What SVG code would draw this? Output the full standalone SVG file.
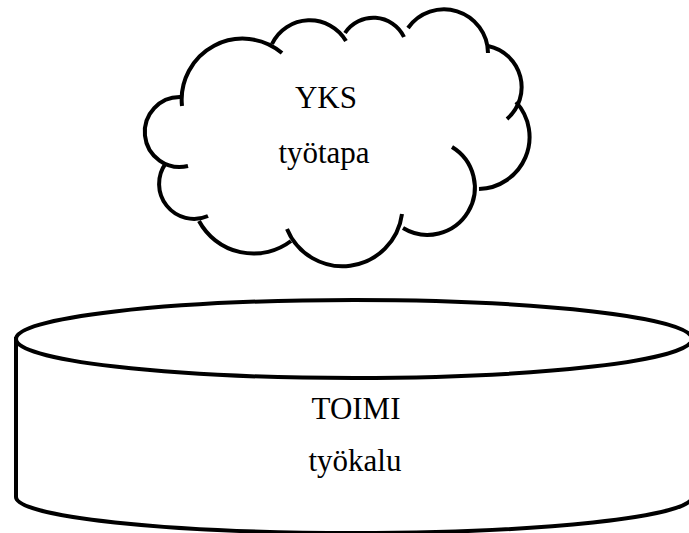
<svg xmlns="http://www.w3.org/2000/svg" width="689" height="533" viewBox="0 0 689 533">
<style>
.ln{fill:none;stroke:#000;stroke-width:4;stroke-linecap:butt}
.bd{fill:#fff;stroke:#000;stroke-width:4}
.tx{font-family:"Liberation Serif","Times New Roman",serif;font-size:31px;fill:#000;text-anchor:middle}
</style>
<rect width="689" height="533" fill="#fff"/>
<g id="cloud">
<path class="ln" d="M182,106 A61,61 0 0 1 282,53"/>
<path class="ln" d="M272,44 A42,42 0 0 1 346,41"/>
<path class="ln" d="M345,33 A34,34 0 0 1 404,37"/>
<path class="ln" d="M408,28 A44,44 0 0 1 488,53"/>
<path class="ln" d="M488,46 A42,42 0 0 1 507,119"/>
<path class="ln" d="M516,102 A52,52 0 0 1 479,189"/>
<path class="ln" d="M452,147 A45,45 0 1 1 403,228"/>
<path class="ln" d="M402,214 A60,60 0 0 1 287,229"/>
<path class="ln" d="M291,241 A62,62 0 0 1 199,221"/>
<path class="ln" d="M208,216 A35,35 0 0 1 166,163"/>
<path class="ln" d="M188,166 A35,35 0 1 1 181,97"/>
<text class="tx" x="326" y="108">YKS</text>
<text class="tx" x="324" y="163">työtapa</text>
</g>
<g id="cylinder">
<path class="bd" d="M16,339 L16,497 A338,36 0 0 0 692,497 L692,339 Z"/>
<ellipse class="bd" cx="354" cy="339" rx="338" ry="39"/>
<text class="tx" x="356" y="419">TOIMI</text>
<text class="tx" x="355" y="471">työkalu</text>
</g>
<g id="connectors"/>
</svg>
